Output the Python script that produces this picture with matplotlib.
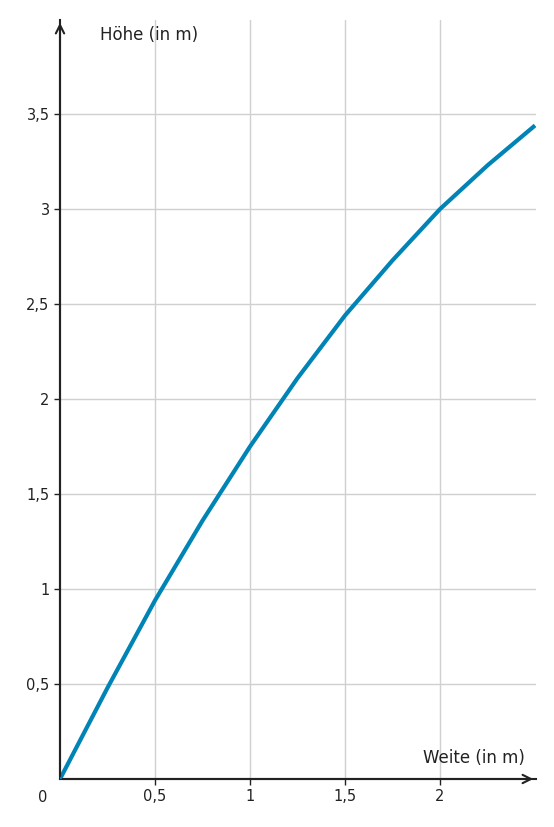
import matplotlib
matplotlib.use('Agg')
import matplotlib.pyplot as plt

# Werte
weite = [0, 0.25, 0.5, 0.75, 1.0, 1.25, 1.5, 1.75, 2.0, 2.25, 2.5]
hoehe = [0, 0.48, 0.94, 1.36, 1.75, 2.11, 2.44, 2.73, 3.0, 3.23, 3.44]
xticks = [0.5, 1, 1.5, 2]
xlabels = ['0,5', '1', '1,5', '2']
yticks = [0.5, 1, 1.5, 2, 2.5, 3, 3.5]
ylabels = ['0,5', '1', '1,5', '2', '2,5', '3', '3,5']

W, H = 554, 827
fig = plt.figure(figsize=(W / 100, H / 100), dpi=100)
ax = fig.add_axes([60 / W, 48 / H, 476 / W, 759 / H])
ax.set_xlim(0, 2.505)
ax.set_ylim(0, 3.995)

ax.plot(weite, hoehe, color='#0083b5', linewidth=3, solid_capstyle='butt', zorder=3)

ax.set_xticks(xticks)
ax.set_xticklabels(xlabels)
ax.set_yticks(yticks)
ax.set_yticklabels(ylabels)
ax.tick_params(colors='#222222', labelsize=10.5, length=4, width=1)
ax.grid(True, color='#d0d0d0', linewidth=1)

for s in ['top', 'right']:
    ax.spines[s].set_visible(False)
for s in ['left', 'bottom']:
    ax.spines[s].set_color('#222222')
    ax.spines[s].set_linewidth(1.5)

# Pfeile an den Achsen
ax.annotate('', xy=(1.0, 0), xytext=(0, 0), xycoords='axes fraction',
            arrowprops=dict(arrowstyle='->', color='#222222', lw=1.5, mutation_scale=15))
ax.annotate('', xy=(0, 1.0), xytext=(0, 0), xycoords='axes fraction',
            arrowprops=dict(arrowstyle='->', color='#222222', lw=1.5, mutation_scale=15))
ax.set_clip_on(False)

fig.text(43 / W, 1 - 797 / H, '0', ha='center', va='center', fontsize=10.5, color='#222222')
fig.text(100 / W, 1 - 35 / H, 'Höhe (in m)', ha='left', va='center', fontsize=12, color='#222222')
fig.text(525 / W, 1 - 758 / H, 'Weite (in m)', ha='right', va='center', fontsize=12, color='#222222')

fig.savefig('out.png', dpi=100, facecolor='white')
